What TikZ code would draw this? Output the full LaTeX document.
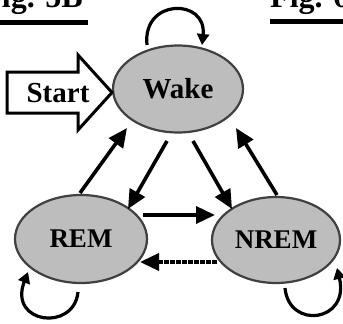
\documentclass[tikz,border=0pt]{standalone}
\usepackage{fontspec}
\setmainfont{Liberation Serif}
\usetikzlibrary{shapes.geometric,arrows.meta}
\begin{document}
\begin{tikzpicture}[x=1pt,y=-1pt,
  state/.style={ellipse,draw=black!75,line width=2.2pt,fill=black!26,inner sep=0pt,
    font=\bfseries\fontsize{27}{30}\selectfont},
  conn/.style={line width=3.6pt,-{Triangle[length=19pt,width=17pt]}},
  loopc/.style={line width=3.2pt,-{Triangle[length=11pt,width=12pt]}},
  title/.style={font=\bfseries\fontsize{32}{36}\selectfont,inner sep=0pt}]
\useasboundingbox (0,0) rectangle (343,324);
\clip (0,0) rectangle (343,324);
% titles
\node[title,anchor=base east] (ta) at (83,7.5) {Fig. 5B};
\draw[line width=5pt] (0,22.5) -- (88,22.5);
\node[title,anchor=base west] (tb) at (270,7) {Fig. 6};
\draw[line width=5pt] (270,21.5) -- (343,21.5);
% states
\node[state,minimum width=130pt,minimum height=87pt,font=\bfseries\fontsize{29}{32}\selectfont] (wake) at (178,89) {Wake};
\node[state,minimum width=132pt,minimum height=88pt] (rem) at (81,239) {REM};
\node[state,minimum width=128pt,minimum height=86pt] (nrem) at (276,240) {NREM};
% start arrow
\draw[line width=3pt,fill=white,line join=miter] (7,72) -- (78,72) -- (78,55) -- (112,92.5) -- (78,130) -- (78,113) -- (7,113) -- cycle;
\node[font=\bfseries\fontsize{29}{30}\selectfont,inner sep=0pt] (start) at (58,93) {Start};
% transitions
\draw[conn] ([shift={(-1,-46)}]rem.center) -- ([shift={(-51,39)}]wake.center);
\draw[conn] ([shift={(-11,52)}]wake.center) -- ([shift={(47,-30)}]rem.center);
\draw[conn] ([shift={(15,52)}]wake.center) -- ([shift={(-44,-31)}]nrem.center);
\draw[conn] ([shift={(1,-45)}]nrem.center) -- ([shift={(58,39)}]wake.center);
\draw[conn] ([shift={(62,-24)}]rem.center) -- ([shift={(-61,-25)}]nrem.center);
\draw[conn,dash pattern=on 5pt off 1pt] ([shift={(-59,22)}]nrem.center) -- ([shift={(59,23)}]rem.center);
% self loops
\draw[loopc] ([shift={(-31,-44)}]wake.center) .. controls (142,-2) and (207,-2) .. ([shift={(24,-44)}]wake.center);
\draw[loopc] ([shift={(-3,53)}]rem.center) .. controls (74,332) and (8,324) .. ([shift={(-53,33)}]rem.center);
\draw[loopc] ([shift={(9,48)}]nrem.center) .. controls (289,330) and (350,322) .. ([shift={(61,28)}]nrem.center);
\end{tikzpicture}
\end{document}
